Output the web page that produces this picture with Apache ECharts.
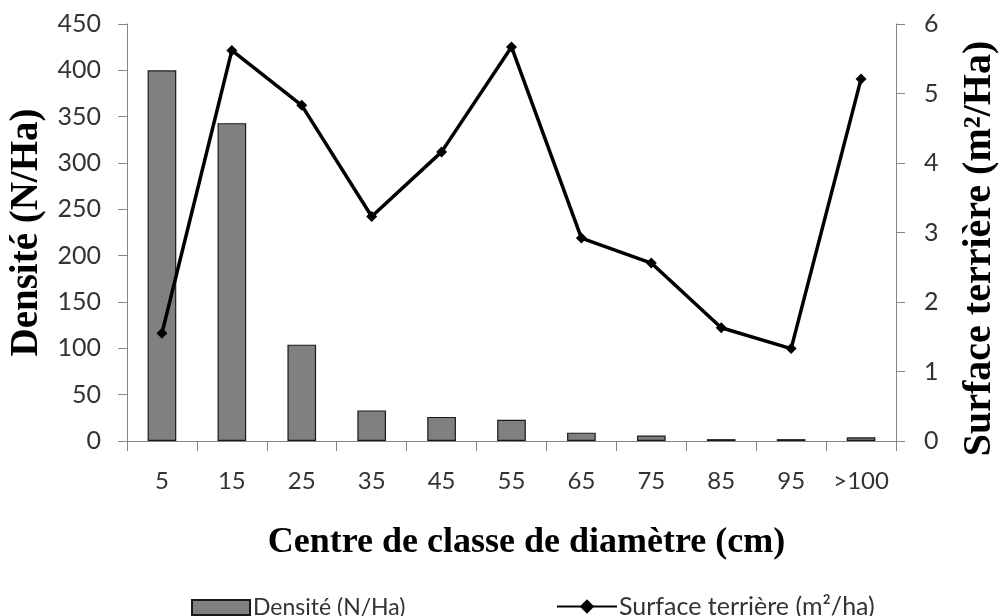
<!DOCTYPE html>
<html>
<head>
<meta charset="utf-8">
<script src="https://cdn.jsdelivr.net/npm/echarts@6/dist/echarts.min.js"></script>
<style>
html,body{margin:0;padding:0;background:#fff;}
#chart{width:1000px;height:616px;}
</style>
</head>
<body>
<div id="chart"></div>
<script>
const categories = ['5','15','25','35','45','55','65','75','85','95','>100'];
const densite = [400, 343, 104, 33, 26, 23, 9, 6, 2, 2, 4];
const surface = [1.55, 5.62, 4.83, 3.23, 4.16, 5.67, 2.92, 2.56, 1.63, 1.33, 5.21];
const leftTicks = {min: 0, max: 450, interval: 50};
const rightTicks = {min: 0, max: 6, interval: 1};

const labelFont = "Lato, 'DejaVu Sans Condensed', sans-serif";
const titleFont = "'Liberation Serif', 'DejaVu Serif', serif";
const axisGray = '#868686';

const chart = echarts.init(document.getElementById('chart'), null, {renderer: 'canvas'});
chart.setOption({
  animation: false,
  backgroundColor: '#fff',
  grid: {left: 127, right: 104, top: 24, bottom: 175, containLabel: false, outerBoundsMode: 'none'},
  legend: [
    {
      data: [{name: 'Densité (N/Ha)', icon: 'rect'}],
      left: 186, top: 591,
      itemWidth: 58, itemHeight: 15, itemGap: 10,
      textStyle: {fontFamily: labelFont, fontSize: 23, color: '#333', padding: [0, 0, 0, -2]}
    },
    {
      data: ['Surface terrière (m²/ha)'],
      left: 551, top: 589,
      itemWidth: 60, itemHeight: 18, itemGap: 10,
      textStyle: {fontFamily: labelFont, fontSize: 25, color: '#333', padding: [0, 0, 0, -3]}
    }
  ],
  xAxis: {
    type: 'category',
    data: categories,
    boundaryGap: true,
    axisLine: {lineStyle: {color: axisGray, width: 1}},
    axisTick: {show: true, alignWithLabel: false, length: 10, lineStyle: {color: axisGray}},
    axisLabel: {fontFamily: labelFont, fontSize: 24, color: '#333', margin: 28, interval: 0},
    name: 'Centre de classe de diamètre (cm)',
    nameLocation: 'middle',
    nameGap: 84,
    nameTextStyle: {fontFamily: titleFont, fontWeight: 'bold', fontSize: 36, color: '#000', padding: [0, 0, 0, 30]}
  },
  yAxis: [
    {
      type: 'value',
      min: leftTicks.min, max: leftTicks.max, interval: leftTicks.interval,
      position: 'left',
      splitLine: {show: false},
      axisLine: {show: true, lineStyle: {color: axisGray, width: 1}},
      axisTick: {show: true, length: 9, lineStyle: {color: axisGray}},
      axisLabel: {fontFamily: labelFont, fontSize: 25, color: '#333', margin: 26},
      name: 'Densité (N/Ha)',
      nameLocation: 'middle',
      nameGap: 80,
      nameTextStyle: {fontFamily: titleFont, fontWeight: 'bold', fontSize: 39, color: '#000'}
    },
    {
      type: 'value',
      min: rightTicks.min, max: rightTicks.max, interval: rightTicks.interval,
      position: 'right',
      splitLine: {show: false},
      axisLine: {show: true, lineStyle: {color: axisGray, width: 1}},
      axisTick: {show: true, length: 9, lineStyle: {color: axisGray}},
      axisLabel: {fontFamily: labelFont, fontSize: 25, color: '#333', margin: 28},
      name: 'Surface terrière (m²/Ha)',
      nameLocation: 'middle',
      nameGap: 64,
      nameTextStyle: {fontFamily: titleFont, fontWeight: 'bold', fontSize: 40, color: '#000', padding: [0, 32, 0, 0]}
    }
  ],
  series: [
    {
      name: 'Densité (N/Ha)',
      type: 'bar',
      yAxisIndex: 0,
      data: densite,
      barWidth: '41%',
      itemStyle: {color: '#808080', borderColor: '#1a1a1a', borderWidth: 1.2}
    },
    {
      name: 'Surface terrière (m²/ha)',
      type: 'line',
      yAxisIndex: 1,
      data: surface,
      symbol: 'diamond',
      symbolSize: 11,
      lineStyle: {color: '#000', width: 3.5},
      itemStyle: {color: '#000'},
      z: 5
    }
  ]
});
</script>
</body>
</html>
